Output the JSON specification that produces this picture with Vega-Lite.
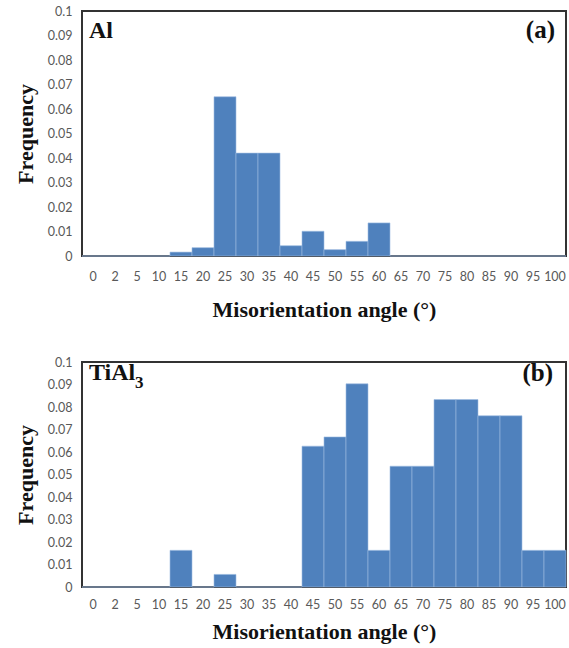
{
  "$schema": "https://vega.github.io/schema/vega-lite/v6.json",
  "background": "white",
  "padding": {"left": 13, "top": 4, "right": 2, "bottom": 5},
  "bounds": "flush",
  "spacing": 106,
  "datasets": {
    "a": [
      {"angle": "0", "freq": 0}, {"angle": "2", "freq": 0}, {"angle": "5", "freq": 0}, {"angle": "10", "freq": 0},
      {"angle": "15", "freq": 0.0016}, {"angle": "20", "freq": 0.0034}, {"angle": "25", "freq": 0.065},
      {"angle": "30", "freq": 0.042}, {"angle": "35", "freq": 0.042}, {"angle": "40", "freq": 0.0042},
      {"angle": "45", "freq": 0.0101}, {"angle": "50", "freq": 0.0026}, {"angle": "55", "freq": 0.006},
      {"angle": "60", "freq": 0.0135}, {"angle": "65", "freq": 0}, {"angle": "70", "freq": 0}, {"angle": "75", "freq": 0},
      {"angle": "80", "freq": 0}, {"angle": "85", "freq": 0}, {"angle": "90", "freq": 0}, {"angle": "95", "freq": 0}, {"angle": "100", "freq": 0}
    ],
    "b": [
      {"angle": "0", "freq": 0}, {"angle": "2", "freq": 0}, {"angle": "5", "freq": 0}, {"angle": "10", "freq": 0},
      {"angle": "15", "freq": 0.0163}, {"angle": "20", "freq": 0}, {"angle": "25", "freq": 0.0056},
      {"angle": "30", "freq": 0}, {"angle": "35", "freq": 0}, {"angle": "40", "freq": 0},
      {"angle": "45", "freq": 0.0626}, {"angle": "50", "freq": 0.0667}, {"angle": "55", "freq": 0.0903},
      {"angle": "60", "freq": 0.0163}, {"angle": "65", "freq": 0.0537}, {"angle": "70", "freq": 0.0537}, {"angle": "75", "freq": 0.0833},
      {"angle": "80", "freq": 0.0833}, {"angle": "85", "freq": 0.0761}, {"angle": "90", "freq": 0.0761}, {"angle": "95", "freq": 0.0163}, {"angle": "100", "freq": 0.0163}
    ],
    "notesA_left": [{"label": "Al", "angle": "0", "freq": 0.089}],
    "notesA_right": [{"label": "(a)", "angle": "100", "freq": 0.089}],
    "notesB_left": [{"label": "TiAl", "angle": "0", "freq": 0.092}],
    "notesB_sub": [{"label": "3", "angle": "2", "freq": 0.0885}],
    "notesB_right": [{"label": "(b)", "angle": "100", "freq": 0.0915}]
  },
  "config": {
    "view": {"stroke": "#333333", "strokeWidth": 2},
    "axis": {
      "ticks": false,
      "domain": false,
      "grid": false,
      "labelColor": "#595959",
      "titleColor": "#111111"
    },
    "text": {"color": "#111111"}
  },
  "vconcat": [
    {
      "width": 484,
      "height": 245,
      "encoding": {
        "x": {"field": "angle", "type": "ordinal",
          "scale": {"domain": ["0","2","5","10","15","20","25","30","35","40","45","50","55","60","65","70","75","80","85","90","95","100"], "paddingInner": 0, "paddingOuter": 0},
          "axis": {"title": "Misorientation angle (°)", "titleFont": "Liberation Serif", "titleFontSize": 22, "titleFontWeight": "bold", "labelFont": "Lato", "labelFontSize": 12.5, "labelAngle": 0, "labelPadding": 14, "titlePadding": 17}},
        "y": {"field": "freq", "type": "quantitative",
          "scale": {"domain": [0, 0.1], "nice": false, "zero": true},
          "axis": {"title": "Frequency", "titleFont": "Liberation Serif", "titleFontSize": 22, "titleFontWeight": "bold", "labelFont": "Lato", "labelFontSize": 12.5, "tickCount": 10, "labelExpr": "datum.value == 0 ? '0' : format(datum.value, '.2~f')", "labelOverlap": false, "labelPadding": 10, "titlePadding": 10}}
      },
      "layer": [
        {
          "data": {"name": "a"},
          "mark": {"type": "bar", "color": "#4F81BD", "stroke": "#9fbde3", "strokeWidth": 0.6}
        },
        {
          "data": {"name": "notesA_left"},
          "mark": {"type": "text", "align": "left", "baseline": "alphabetic", "fontSize": 24, "dx": -4, "font": "Liberation Serif", "fontWeight": "bold"},
          "encoding": {"text": {"field": "label"}}
        },
        {
          "data": {"name": "notesA_right"},
          "mark": {"type": "text", "align": "right", "baseline": "alphabetic", "fontSize": 25, "dx": 0, "font": "Liberation Serif", "fontWeight": "bold"},
          "encoding": {"text": {"field": "label"}}
        }
      ]
    },
    {
      "width": 484,
      "height": 225,
      "encoding": {
        "x": {"field": "angle", "type": "ordinal",
          "scale": {"domain": ["0","2","5","10","15","20","25","30","35","40","45","50","55","60","65","70","75","80","85","90","95","100"], "paddingInner": 0, "paddingOuter": 0},
          "axis": {"title": "Misorientation angle (°)", "titleFont": "Liberation Serif", "titleFontSize": 22, "titleFontWeight": "bold", "labelFont": "Lato", "labelFontSize": 12.5, "labelAngle": 0, "labelPadding": 11, "titlePadding": 11}},
        "y": {"field": "freq", "type": "quantitative",
          "scale": {"domain": [0, 0.1], "nice": false, "zero": true},
          "axis": {"title": "Frequency", "titleFont": "Liberation Serif", "titleFontSize": 22, "titleFontWeight": "bold", "labelFont": "Lato", "labelFontSize": 12.5, "tickCount": 10, "labelExpr": "datum.value == 0 ? '0' : format(datum.value, '.2~f')", "labelOverlap": false, "labelPadding": 10, "titlePadding": 10}}
      },
      "layer": [
        {
          "data": {"name": "b"},
          "mark": {"type": "bar", "color": "#4F81BD", "stroke": "#9fbde3", "strokeWidth": 0.6}
        },
        {
          "data": {"name": "notesB_left"},
          "mark": {"type": "text", "align": "left", "baseline": "alphabetic", "fontSize": 24, "dx": -4, "font": "Liberation Serif", "fontWeight": "bold"},
          "encoding": {"text": {"field": "label"}}
        },
        {
          "data": {"name": "notesB_sub"},
          "mark": {"type": "text", "align": "left", "baseline": "alphabetic", "fontSize": 17, "dx": 20, "font": "Liberation Serif", "fontWeight": "bold"},
          "encoding": {"text": {"field": "label"}}
        },
        {
          "data": {"name": "notesB_right"},
          "mark": {"type": "text", "align": "right", "baseline": "alphabetic", "fontSize": 25, "dx": -2, "font": "Liberation Serif", "fontWeight": "bold"},
          "encoding": {"text": {"field": "label"}}
        }
      ]
    }
  ]
}
